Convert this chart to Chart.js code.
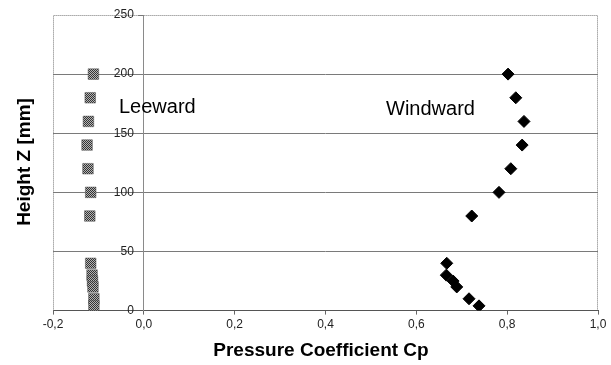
<!DOCTYPE html>
<html>
<head>
<meta charset="utf-8">
<script src="https://cdn.jsdelivr.net/npm/chart.js@4/dist/chart.umd.min.js"></script>
<style>
  html, body { margin: 0; padding: 0; background: #fff; }
  #wrap { width: 611px; height: 365px; }
</style>
</head>
<body>
<div id="wrap"><canvas id="cpChart" width="611" height="365"></canvas></div>
<script>
"use strict";

// data
var heights = [200, 180, 160, 140, 120, 100, 80, 40, 30, 25, 20, 10, 4];
var windward = [0.802, 0.819, 0.837, 0.833, 0.808, 0.782, 0.722, 0.667, 0.666, 0.681, 0.689, 0.716, 0.738];
var leeward = [-0.111, -0.118, -0.122, -0.125, -0.123, -0.117, -0.119, -0.117, -0.114, -0.113, -0.112, -0.110, -0.110];
var xTicks = [-0.2, 0.0, 0.2, 0.4, 0.6, 0.8, 1.0];
var yTicks = [0, 50, 100, 150, 200, 250];

function toPoints(xs) {
  return xs.map(function (v, i) { return { x: v, y: heights[i] }; });
}

// checkered fill like the old excel marker
var pc = document.createElement('canvas');
pc.width = 2; pc.height = 2;
var pctx = pc.getContext('2d');
pctx.fillStyle = '#b4b4b4'; pctx.fillRect(0, 0, 2, 2);
pctx.fillStyle = '#333333'; pctx.fillRect(0, 0, 1, 1); pctx.fillRect(1, 1, 1, 1);
var checker = pctx.createPattern(pc, 'repeat');

var extras = {
  id: 'extras',
  beforeDatasetsDraw: function (chart) {
    var a = chart.chartArea, ctx = chart.ctx;
    ctx.save();
    ctx.strokeStyle = '#777';
    ctx.lineWidth = 1;
    ctx.setLineDash([1, 1]);
    ctx.beginPath();
    ctx.moveTo(a.left + 0.5, a.bottom);
    ctx.lineTo(a.left + 0.5, a.top + 0.5);
    ctx.lineTo(a.right - 0.5, a.top + 0.5);
    ctx.lineTo(a.right - 0.5, a.bottom);
    ctx.stroke();
    ctx.restore();
  },
  afterDraw: function (chart) {
    var ctx = chart.ctx;
    var xs = chart.scales.x, ys = chart.scales.y;
    ctx.save();

    // y tick labels sit left of the axis at x = 0 (chart.js puts no padding there)
    var x0 = xs.getPixelForValue(0);
    ctx.fillStyle = '#222';
    ctx.font = '12px Arial, "Liberation Sans", sans-serif';
    ctx.textAlign = 'right';
    ctx.textBaseline = 'middle';
    yTicks.forEach(function (v) {
      ctx.fillText(String(v), x0 - 10, ys.getPixelForValue(v));
    });

    ctx.fillStyle = '#000';
    ctx.font = '20px Arial, "Liberation Sans", sans-serif';
    ctx.textBaseline = 'alphabetic';
    ctx.textAlign = 'left';
    ctx.fillText('Leeward', 119, 113);
    ctx.fillText('Windward', 386, 115);

    ctx.font = 'bold 19px Arial, "Liberation Sans", sans-serif';
    ctx.textAlign = 'center';
    ctx.textBaseline = 'middle';
    ctx.fillText('Pressure Coefficient Cp', 321, 351);

    ctx.translate(25, 162);
    ctx.rotate(-Math.PI / 2);
    ctx.fillText('Height Z [mm]', 0, 0);
    ctx.restore();
  }
};

var ctx = document.getElementById('cpChart').getContext('2d');
var myChart = new Chart(ctx, {
  type: 'scatter',
  data: {
    datasets: [{
      label: 'Windward',
      data: toPoints(windward),
      pointStyle: 'rectRot',
      pointRadius: 6,
      backgroundColor: '#000',
      borderColor: '#000',
      borderWidth: 1
    }, {
      label: 'Leeward',
      data: toPoints(leeward),
      pointStyle: 'rect',
      pointRadius: 7.5,
      backgroundColor: checker,
      borderColor: '#555',
      borderWidth: 0.5
    }]
  },
  options: {
    responsive: false,
    animation: false,
    layout: {
      padding: { left: 53, right: 13, top: 15, bottom: 30 }
    },
    plugins: {
      legend: { display: false },
      tooltip: { enabled: false }
    },
    scales: {
      x: {
        type: 'linear',
        min: -0.2,
        max: 1.0,
        afterBuildTicks: function (axis) {
          axis.ticks = xTicks.map(function (v) { return { value: v }; });
        },
        ticks: {
          color: '#222',
          font: { family: 'Arial, "Liberation Sans", sans-serif', size: 12 },
          padding: 3,
          callback: function (v) { return Number(v).toFixed(1).replace('.', ','); }
        },
        grid: {
          drawOnChartArea: false,
          drawTicks: true,
          tickLength: 4,
          color: '#666'
        },
        border: { display: true, color: '#555' }
      },
      y: {
        type: 'linear',
        position: { x: 0 },
        min: 0,
        max: 250,
        afterBuildTicks: function (axis) {
          axis.ticks = yTicks.map(function (v) { return { value: v }; });
        },
        ticks: { display: false },
        grid: {
          drawTicks: true,
          tickLength: 5,
          color: function (c) { return (c.tick && (c.tick.value === 250 || c.tick.value === 0)) ? 'rgba(0,0,0,0)' : '#7a7a7a'; },
          tickColor: '#7a7a7a'
        },
        border: { display: true, color: '#8a8a8a' }
      }
    }
  },
  plugins: [extras]
});
</script>
</body>
</html>
